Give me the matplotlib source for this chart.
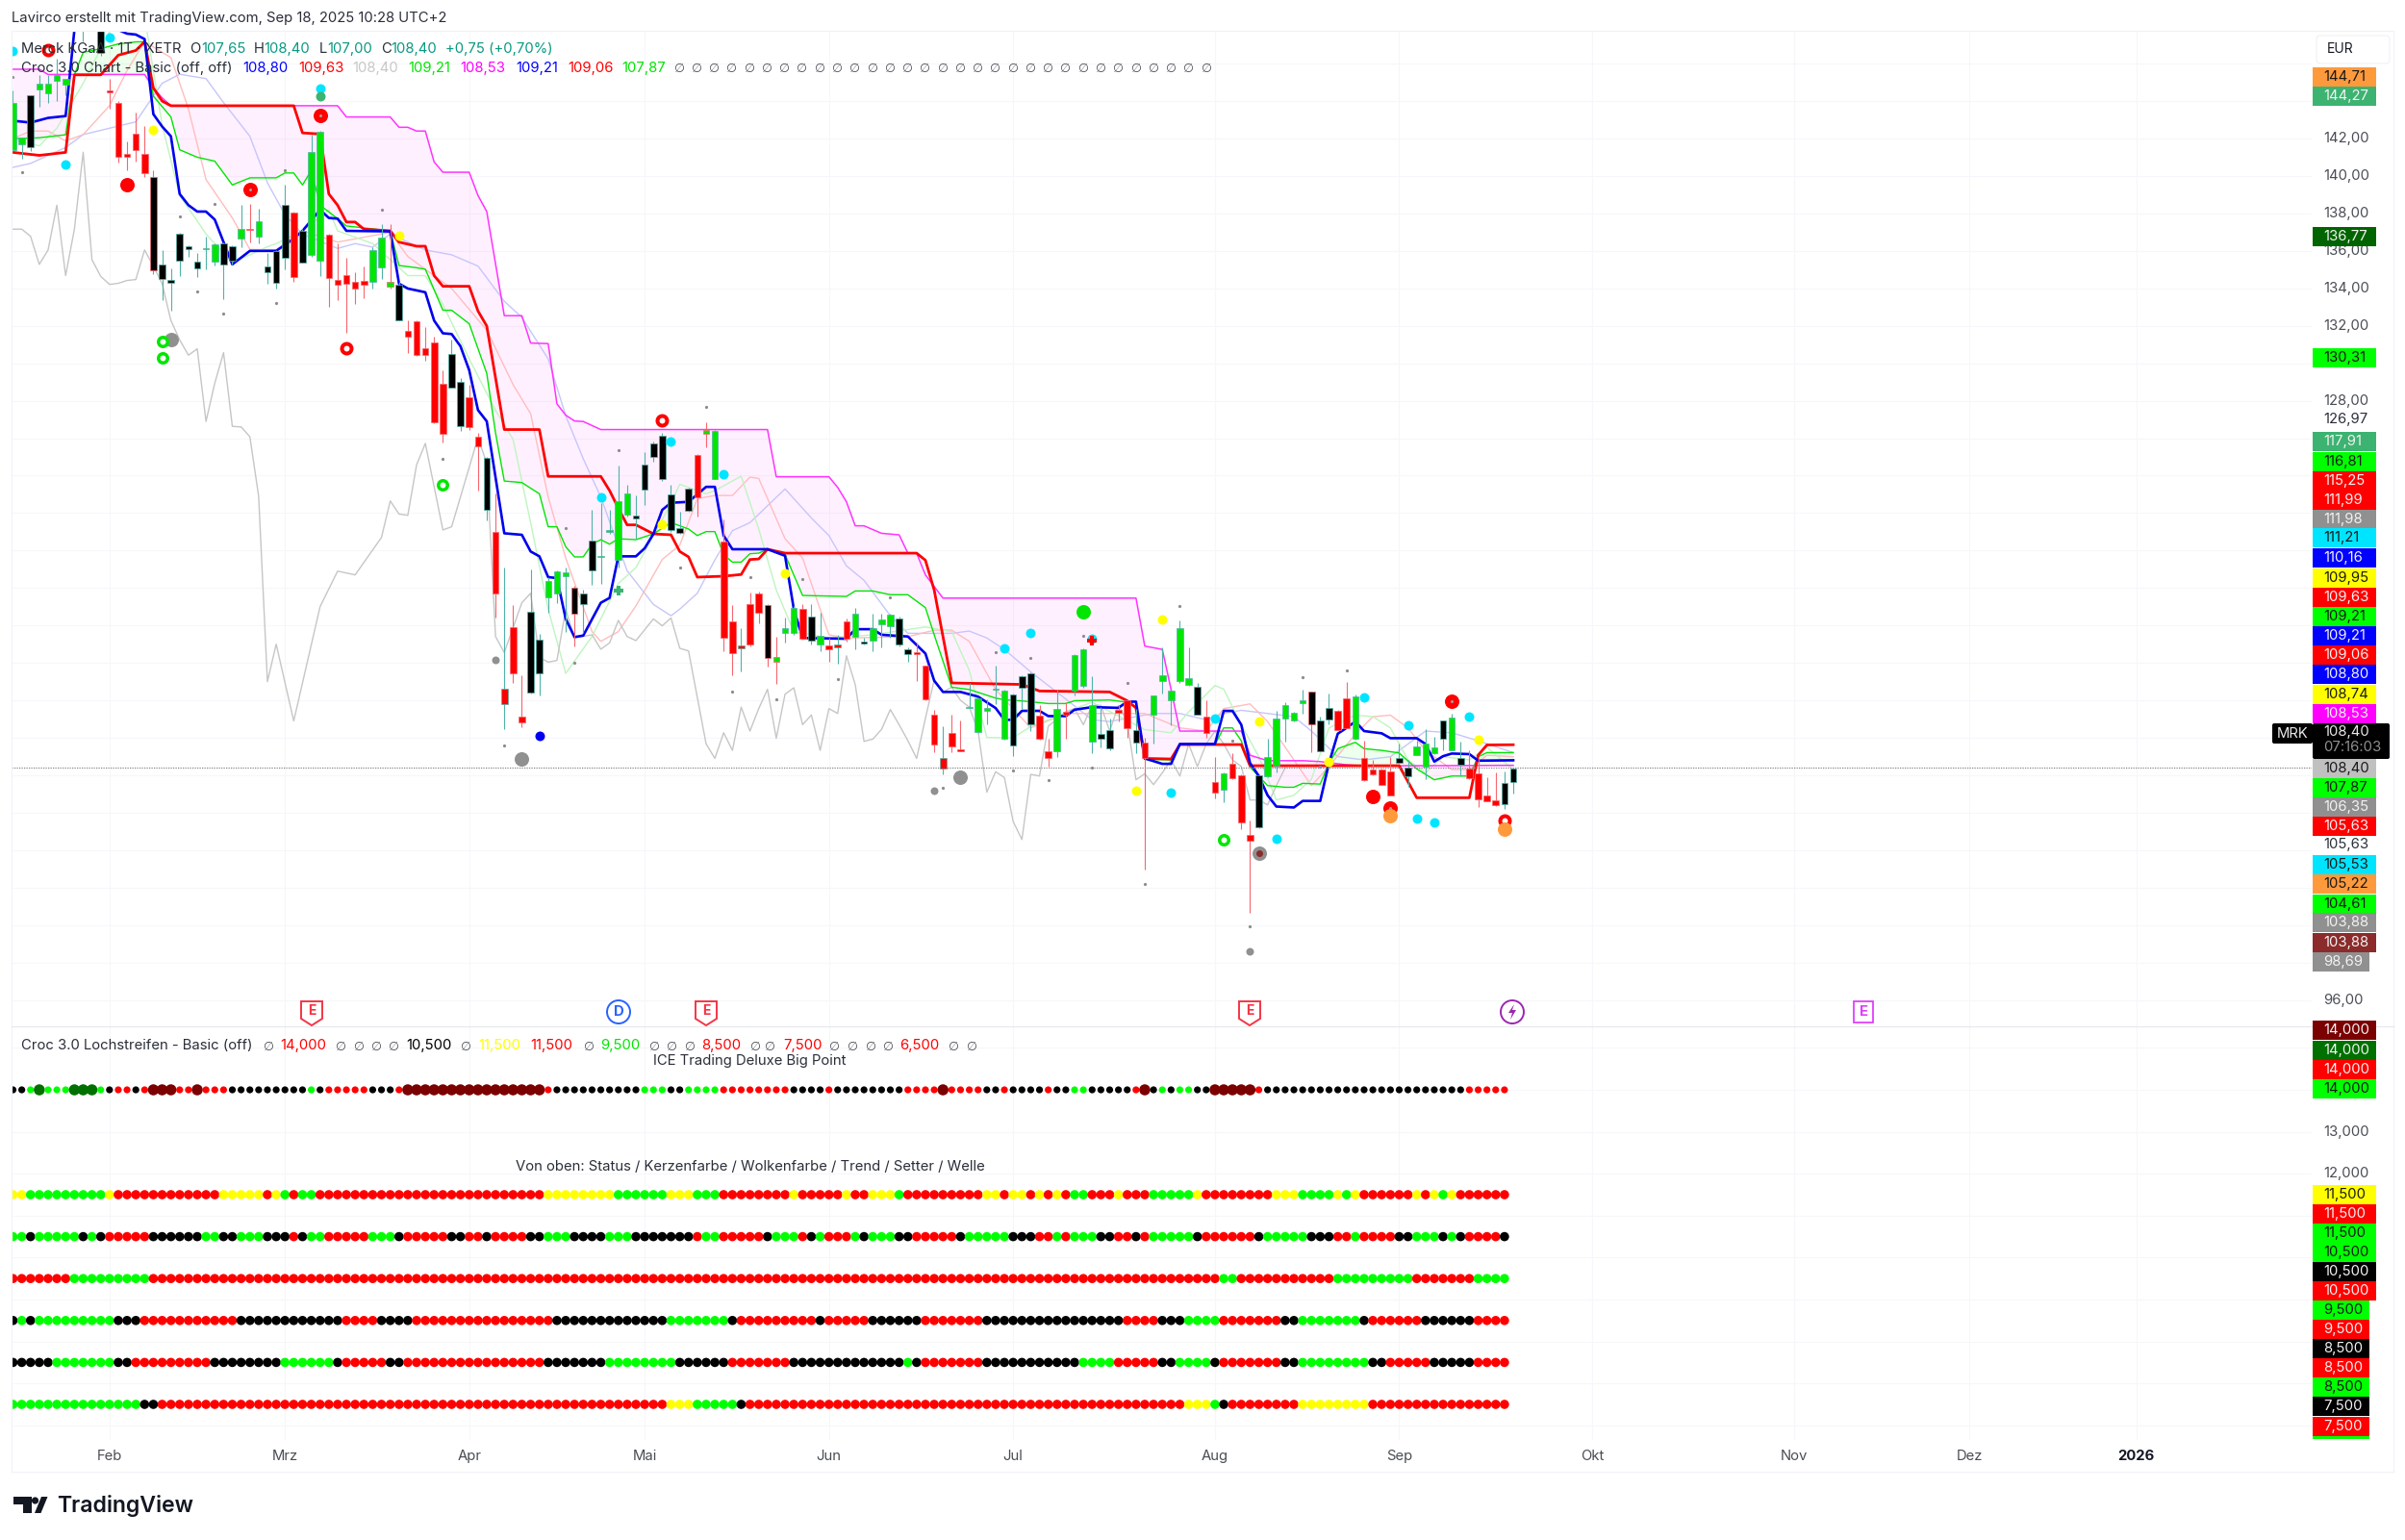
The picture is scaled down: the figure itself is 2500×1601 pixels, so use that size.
import numpy as np
import matplotlib
matplotlib.use("Agg")
import matplotlib.pyplot as plt
from matplotlib.patches import Rectangle, Polygon, Circle, Ellipse, FancyBboxPatch

plt.rcParams['font.family'] = ['Inter', 'DejaVu Sans']

# ---------- candles (price, EUR) ----------
body_top = [143.89,142.04,144.32,144.95,144.95,145.41,145.21,149.6,149.0,150.0,148.5,144.55,143.89,141.18,142.24,141.18,139.95,135.28,134.47,136.94,
136.27,135.45,136.13,136.34,136.42,136.27,137.19,137.19,137.59,135.16,136.01,138.48,138.05,137.07,141.30,142.35,136.85,134.47,134.73,134.37,
134.42,136.05,136.73,134.37,134.21,131.72,132.23,130.79,131.12,128.91,130.52,129.03,128.17,126.08,124.96,121.01,112.64,115.92,111.13,116.75,
115.24,118.37,118.89,118.83,118.03,117.72,120.55,119.72,121.11,122.65,123.06,121.87,124.57,125.72,126.11,123.00,121.18,123.29,125.08,126.45,
126.40,120.46,116.23,114.95,117.16,117.69,117.07,114.33,115.84,116.95,116.87,116.49,115.45,114.93,114.98,116.23,116.64,115.15,115.84,116.30,
116.56,116.39,114.73,114.59,113.84,111.25,108.90,110.24,109.37,111.67,112.12,111.61,112.62,112.53,112.33,113.30,113.44,111.18,109.30,111.56,
111.39,114.42,114.72,111.73,110.19,110.39,111.49,111.98,110.41,109.72,112.24,113.32,112.53,115.87,113.20,112.70,111.13,107.62,108.12,108.59,
107.99,104.79,108.01,108.99,111.01,111.73,111.32,112.02,112.45,110.91,111.61,111.44,112.12,112.19,108.92,108.30,108.30,108.22,108.90,108.39,
109.52,109.67,109.50,110.91,111.09,108.90,108.34,108.08,106.92,106.68,107.58,108.34]
body_bottom = [141.39,141.70,141.56,144.61,144.40,145.09,144.86,148.2,148.0,148.6,146.57,144.45,141.01,141.01,141.39,140.16,134.97,134.51,134.28,135.48,
136.08,135.07,136.08,135.45,135.28,135.48,136.65,137.14,136.77,134.88,134.30,135.65,134.59,135.40,135.79,135.50,134.54,134.20,134.25,133.99,
134.20,134.37,135.10,134.08,132.28,131.42,130.43,130.43,126.84,126.24,128.72,126.63,126.60,125.55,122.17,117.69,111.81,113.44,110.84,112.41,
113.44,117.50,117.69,118.61,116.61,117.12,118.92,119.66,120.97,119.52,121.92,121.73,123.23,125.00,123.80,121.09,120.92,122.12,122.82,126.23,
123.83,115.36,114.54,114.76,114.98,116.69,114.26,114.07,115.58,115.58,115.29,115.21,114.98,114.73,114.85,115.27,115.38,115.03,115.19,116.04,
115.98,114.98,114.47,114.47,112.04,109.64,108.34,109.54,109.29,111.61,110.31,111.42,112.55,109.93,109.60,112.67,110.73,109.95,108.94,109.30,
111.21,112.53,112.75,109.81,109.95,109.43,111.33,110.53,109.76,108.90,111.21,113.01,112.02,113.01,112.81,111.25,110.24,107.10,107.24,107.82,
105.48,104.52,105.22,107.93,108.51,111.01,110.91,111.83,110.70,109.30,110.96,110.43,110.53,109.93,107.72,108.03,107.50,106.93,108.65,107.94,
109.09,108.44,109.16,109.95,109.35,108.56,107.82,106.73,106.63,106.39,106.44,107.62]
wick_high = [144.55,142.04,144.32,145.38,145.38,146.27,145.21,150.0,149.5,150.5,149.0,145.20,144.01,141.87,143.41,142.67,140.33,136.05,135.05,136.99,
136.30,135.88,136.77,136.39,136.47,136.30,138.44,138.53,138.27,135.88,136.05,139.56,138.10,137.16,142.21,142.42,136.90,136.39,135.65,134.85,
135.19,136.22,137.42,137.42,134.33,132.28,132.28,131.94,131.42,129.63,131.25,129.20,128.86,126.28,125.00,123.03,119.09,117.07,113.36,118.97,
115.55,118.58,118.95,119.09,118.10,117.89,122.17,122.52,122.17,124.54,123.51,122.94,125.25,125.80,126.28,123.51,122.09,123.34,125.17,126.83,
126.45,121.66,117.07,115.84,117.76,117.81,117.12,115.41,116.44,117.04,117.16,117.16,116.70,115.33,115.50,116.35,116.92,115.33,116.64,116.64,
116.64,116.49,114.81,115.07,113.87,111.47,110.62,111.21,110.91,112.93,112.15,112.07,113.83,112.58,112.36,113.35,113.47,111.73,109.93,112.58,
111.90,114.47,114.78,113.30,111.64,111.04,111.73,112.07,111.56,110.02,112.27,114.81,112.58,116.26,114.81,112.93,111.98,108.99,108.13,109.16,
108.03,105.56,108.05,109.93,111.44,111.90,111.39,112.55,112.48,111.13,112.36,111.47,112.98,112.29,109.84,108.82,108.34,108.99,109.67,108.82,
109.84,110.44,110.05,110.94,111.30,109.81,109.33,108.90,107.88,108.13,108.22,108.40]
wick_low = [141.35,140.93,141.35,143.70,143.92,144.01,144.30,147.9,147.19,148.0,146.40,143.58,140.70,140.33,140.75,139.93,134.76,133.39,132.83,134.68,
135.70,134.59,135.02,135.22,133.43,135.28,136.22,136.47,136.39,134.25,133.99,135.02,134.33,135.36,135.70,134.68,133.00,133.39,131.65,133.17,
133.48,133.99,134.51,133.99,132.28,130.57,130.40,130.14,126.80,125.77,128.68,126.37,126.46,123.20,121.60,116.44,110.45,112.93,110.57,112.38,
112.28,116.69,117.21,115.67,114.90,115.58,118.15,118.24,120.89,119.09,121.83,120.63,122.43,124.74,123.71,120.97,120.89,122.09,121.83,125.51,
123.80,114.64,113.36,113.56,114.90,116.10,113.78,112.89,115.10,115.50,115.24,114.98,114.64,114.04,113.96,115.15,114.73,114.98,114.64,114.81,
115.33,114.90,114.08,113.01,111.99,109.25,108.05,109.25,109.30,111.61,110.27,110.70,111.81,109.90,109.02,111.56,110.36,109.91,108.47,108.99,
109.93,112.24,112.67,109.16,109.47,109.36,110.87,110.02,109.16,102.95,109.67,112.38,110.67,112.93,112.79,111.21,110.02,106.76,106.56,107.79,
105.14,100.63,105.19,107.88,108.17,109.79,110.87,111.30,109.24,109.26,110.70,110.39,110.49,109.90,107.69,107.99,107.46,106.90,108.61,107.36,
109.06,107.79,109.12,109.33,109.31,107.96,107.79,106.28,106.59,106.35,106.22,107.00]
candle_color = ("ggkggggkkk" "krrrrrkkkk" "kkggkkgrgk" "kkrkggrrrr" "rgggkrrrrr" "kkrrkrrrrk" "kgggkkkggg" "gkkkkkkkrg" "grrrrrkggg"
                "rkgrrrgkgg" "gkkrrrrrrg" "ggggkkkrrg" "rgggkkrrkr" "gggggkrrgr" "rrkgggggkk" "krrgrrrrkk" "gggkgkrrrr" "kk")
teal_wick_on_red = [56, 83, 94, 106]
red_wick_other = [16, 43, 64, 79, 86, 87, 148]

# ---------- indicator lines: bar index + price at each vertex ----------
blue_bars = [0,2,4,6,7,8,12,13,14,15,16,17,18,19,20,21,22,23,24,25,27,30,32,33,35,36,37,38,43,44,45,47,48,49,50,51,52,53,54,56,58,59,60,61,62,63,64,65,67,68,69,71,72,73,74,75,77,79,80,81,82,86,88,89,90,95,96,98,99,102,104,105,106,108,110,112,113,114,115,117,118,120,121,123,126,127,128,129,131,132,133,137,138,139,140,141,142,143,144,146,147,149,150,151,152,153,154,156,157,160,161,162,163,164,166,167,171]
blue_vals = [142.95,142.85,143.1,143.2,147.8,149.5,147.8,147.6,147.55,147.31,143.3,142.64,142.12,139.04,138.44,138.1,138.1,137.67,136.47,135.28,136.0,136.0,136.65,137.07,138.19,137.76,137.72,137.07,137.04,134.25,133.99,133.79,132.28,131.6,131.56,130.91,129.63,127.5,126.9,120.92,120.84,119.95,119.69,118.58,118.53,116.35,115.38,115.46,117.21,117.47,119.69,119.69,120.12,120.89,122.17,122.55,122.6,123.4,123.4,120.8,120.07,120.07,119.72,116.87,115.33,115.29,115.8,115.8,115.5,115.41,114.5,113.05,112.45,112.45,112.2,111.59,110.96,110.96,111.44,111.44,111.16,111.16,111.5,111.64,111.6,111.93,111.93,108.9,108.61,108.61,109.67,109.67,111.44,111.44,110.7,108.65,107.96,106.93,106.33,106.28,106.63,106.63,108.65,110.22,110.53,110.87,110.36,110.24,109.98,109.98,109.67,108.73,109.02,109.16,109.13,108.78,108.8]

red_bars = [0,3,6,7,10,12,14,15,16,17,18,32,33,35,36,37,38,39,40,43,44,46,47,48,49,52,53,54,56,60,61,67,68,69,70,71,73,75,76,77,78,81,83,84,85,86,88,103,104,105,107,115,117,125,127,128,129,132,133,140,141,158,160,166,167,168,171]
red_vals = [141.26,141.1,141.26,145.4,145.4,146.45,146.7,147.17,144.7,144.0,143.75,143.75,142.3,142.24,139.04,138.44,137.54,137.54,137.16,137.07,136.47,136.25,136.25,134.68,134.11,134.11,132.79,131.99,126.46,126.46,123.96,123.96,123.2,122.26,121.37,121.37,120.89,120.84,119.95,119.66,118.58,118.63,118.72,119.52,119.55,120.07,119.86,119.86,119.48,117.89,112.93,112.85,112.5,112.45,111.98,111.6,108.9,108.87,109.64,109.64,108.51,108.51,106.8,106.8,109.07,109.62,109.63]

magenta_bars = [0,3,4,15,16,17,18,37,38,43,44,45,46,47,48,49,52,53,54,56,58,59,61,62,63,64,65,67,86,87,93,94,95,96,97,99,101,102,103,104,106,128,129,131,132,133,140,141,143,147,149,152,154,171]
magenta_vals = [145.7,145.7,145.42,145.42,144.7,144.17,143.75,143.75,143.15,143.15,142.6,142.6,142.4,142.4,140.75,140.2,140.2,138.96,138.1,132.54,132.54,131.08,131.05,127.83,127.23,126.92,126.89,126.46,126.46,123.94,123.94,123.37,122.6,121.32,121.32,120.92,120.84,119.86,119.86,118.7,117.46,117.46,114.9,114.72,112.58,110.36,110.36,109.07,108.78,108.78,108.73,108.56,108.5,108.53]

green_bars = [0,3,6,7,8,10,12,14,15,16,18,19,21,23,24,25,27,30,31,32,33,34,35,37,38,43,44,46,47,49,50,52,54,55,56,58,60,61,62,63,64,65,66,67,68,69,71,73,75,77,78,79,80,81,82,83,84,85,86,88,90,95,96,98,100,102,104,105,107,109,112,113,115,118,120,121,125,127,128,129,132,133,137,138,139,140,141,143,145,146,147,149,150,151,153,154,156,158,160,162,164,166,167,168,171]
green_vals = [141.99,142.04,142.2,145.4,146.6,146.8,147.05,147.16,147.17,144.26,143.15,141.4,141.0,140.79,140.16,139.52,139.9,139.9,140.16,140.16,139.52,140.3,138.44,137.72,137.33,137.07,135.22,135.1,135.02,132.83,132.83,132.11,129.46,126.28,123.71,123.63,123.03,121.27,121.27,120.2,119.66,119.66,120.34,120.58,120.34,120.63,120.58,120.89,121.49,121.15,120.8,121.01,121.01,119.78,119.38,119.38,119.83,119.86,120.07,119.78,117.6,117.55,117.84,117.84,117.64,117.64,116.95,115.5,112.7,112.58,112.12,112.03,111.97,111.83,111.83,111.98,112.02,111.9,111.65,108.85,108.82,109.64,109.64,110.53,110.53,109.84,108.44,107.45,107.36,107.36,107.57,107.53,108.65,109.42,109.76,109.42,109.33,109.19,108.34,107.76,107.96,107.96,108.99,109.21,109.21]

grey_bars = [0,1,2,3,4,5,6,7,8,9,10,11,12,13,14,15,16,17,18,19,20,21,22,23,24,25,26,27,28,29,30,32,35,37,39,42,43,44,45,46,47,49,50,53,54,55,56,58,59,60,61,62,63,64,66,67,68,69,70,71,73,74,75,76,77,79,80,81,82,83,84,85,86,87,88,89,90,91,92,93,94,95,96,97,98,99,100,101,102,103,104,105,106,107,108,109,110,111,112,113,114,115,116,117,118,120,121,122,123,124,125,126,127,128,129,130,131,132,133,134,135,136,137,138,139,140,141,142,143,144,145]
grey_vals = [137.16,137.16,136.78,135.28,136.05,138.44,134.68,137.16,141.27,135.53,134.64,134.21,134.27,134.42,134.47,136.05,135.19,134.25,132.28,131.25,130.43,130.77,126.89,128.94,130.57,126.63,126.6,126.08,122.9,113.0,115.0,110.9,117.0,118.9,118.7,120.7,122.65,121.95,121.88,124.57,125.72,121.1,121.27,126.03,124.66,115.41,114.55,117.21,117.72,114.3,114.04,114.13,116.87,115.33,115.5,114.73,115.07,116.27,115.41,115.19,116.35,115.98,116.4,114.78,114.64,109.68,108.9,110.27,109.33,111.64,110.36,111.56,112.59,109.97,112.33,112.67,110.7,111.22,109.33,111.56,111.3,114.38,112.84,109.81,109.93,110.45,111.51,110.7,109.85,108.9,111.04,113.1,112.45,112.7,112.0,111.64,110.36,107.1,108.19,107.88,105.53,104.57,108.05,107.96,110.62,111.39,111.56,110.7,111.73,111.73,110.36,111.73,110.87,107.76,108.08,107.5,108.13,108.82,107.96,109.67,108.47,109.67,110.36,109.67,108.82,108.47,106.68,106.68,106.42,107.45,108.4]

pale_blue_bars = [0,2,6,8,11,14,15,17,19,22,24,27,29,31,33,37,39,41,43,47,50,53,56,58,61,63,65,67,70,73,75,76,78,80,82,84,88,91,93,95,97,100,102,107,109,111,113,116,120,123,125,130,133,136,138,140,143,146,148,151,154,157,159,161,164,167,171]
pale_blue_vals = [140.46,140.67,141.52,142.21,142.55,142.89,143.58,144.95,145.43,145.2,143.92,142.12,139.64,137.93,136.9,136.13,136.39,136.2,136.9,136.05,135.79,135.19,133.31,132.45,130.23,127.2,124.9,122.86,118.92,117.12,116.52,116.87,117.72,119.5,121.06,121.49,123.29,121.74,120.8,119.18,118.41,116.52,115.58,115.58,115.7,115.33,114.72,113.52,112.07,110.96,110.87,111.3,111.3,110.96,111.3,111.47,111.3,111.13,110.36,109.0,108.82,108.99,109.67,110.36,110.27,109.84,109.21]

pale_red_bars = [0,2,4,6,8,11,13,15,18,20,22,25,27,30,33,37,43,45,50,54,57,59,61,63,66,67,69,71,74,76,78,80,82,84,85,88,90,93,95,102,105,107,109,112,115,116,120,129,133,136,138,141,143,146,148,150,153,155,157,159,161,164,166,168,171]
pale_red_vals = [142.0,142.4,142.4,141.87,142.21,143.75,145.63,147.17,146.32,143.58,139.81,137.76,136.08,136.05,137.07,136.47,136.99,135.7,133.99,131.77,128.86,127.31,122.86,119.6,115.67,115.15,115.67,117.04,119.52,120.29,122.77,122.94,122.94,123.92,123.85,120.63,119.6,115.5,115.33,115.4,115.75,115.75,115.15,112.58,111.04,110.53,111.3,111.3,110.53,110.36,111.56,111.81,110.87,108.82,107.45,108.47,110.19,111.13,111.21,110.53,109.33,108.3,108.3,109.07,108.99]

pale_green_bars = [0,3,5,8,11,13,15,17,19,21,22,25,29,30,33,36,37,41,45,47,49,52,55,57,59,61,63,66,69,71,73,75,76,79,80,83,85,87,89,93,98,104,107,109,111,113,114,116,118,121,123,129,132,134,137,138,140,142,144,146,148,150,153,155,157,159,161,163,166,168,171]
pale_green_vals = [141.95,141.61,142.55,144.95,147.7,149.0,148.5,142.72,138.95,137.6,136.9,135.36,136.22,136.39,137.07,138.2,137.07,136.39,134.68,134.68,133.14,130.23,127.49,125.94,121.49,116.87,113.44,115.41,118.24,119.09,120.8,122.52,123.54,123.03,123.2,123.97,121.15,117.89,115.67,115.33,115.5,115.92,115.67,113.6,110.02,110.0,110.01,110.6,110.96,111.56,111.9,110.44,110.27,111.38,112.79,112.6,110.7,108.99,106.68,106.93,107.79,110.53,111.21,111.13,110.53,108.82,108.13,108.99,108.82,109.5,108.3]

# ---------- signal markers (bar index, price) ----------
cyan_bars = [0,11,6,35,75,81,67,113,116,123,154,137,166,159,160,162,144,132]
cyan_vals = [146.66,147.38,140.62,144.69,125.8,124.09,122.86,114.78,115.58,115.3,112.17,111.01,111.13,110.65,105.68,105.46,104.59,107.09]
yellow_bars = [16,44,74,88,128,131,142,150,167]
yellow_vals = [142.47,136.82,121.4,118.8,107.16,116.32,110.87,108.7,109.9]
small_grey_bars = [0,1,19,23,21,24,30,31,42,49,63,76,69,79,56,64,84,90,82,87,100,94,112,116,122,127,123,114,118,133,106,129,141,139,147,152,149]
small_grey_vals = [145.29,140.2,137.84,138.49,133.82,132.67,133.22,140.33,138.22,124.91,121.2,119.09,125.34,127.65,109.57,114.0,118.58,118.46,112.47,112.04,117.5,113.13,114.55,114.25,115.45,112.93,108.41,108.27,107.74,117.02,107.33,102.21,99.92,109.84,113.25,113.61,108.47]
solid_red_bars = [13,155]
solid_red_vals = [139.56,106.87]
red_center_bars = [35,27,157,164]
red_center_vals = [143.24,139.26,106.25,111.93]
red_ring_bars = [4,38,74,170]
red_ring_vals = [146.71,130.79,126.97,105.56]
green_ring_bars = [17,17,49,138]
green_ring_vals = [131.17,130.31,123.51,104.55]
grey_big_bars = [18,58,108,142]
grey_big_vals = [131.29,108.89,107.88,103.82]
grey_mid_bars = [55,105,141]
grey_mid_vals = [114.16,107.16,98.6]
orange_bars = [157,170]
orange_vals = [105.82,105.14]
seagreen_bars = [35]
seagreen_vals = [144.26]
blue_dot_bars = [60]
blue_dot_vals = [110.1]
lime_big_bars = [122]
lime_big_vals = [116.75]
brown_bars = [142]
brown_vals = [103.82]
green_plus_bars = [69]
green_plus_vals = [117.86]
red_plus_bars = [123]
red_plus_vals = [115.2]

# ---------- lower pane dot rows: level + colour runs ----------
big_point_level = 14.0
big_point_runs = "k2 g1 G1 g3 G3 g1 k1 r2 k1 r1 D3 r2 D1 r3 k9 g1 k1 r5 k3 r1 D16 r1 k10 g3 k2 g4 r8 k4 r1 k8 r4 D1 r4 k2 r1 k4 r1 k2 g2 k5 r1 D1 k1 g1 k1 g2 k2 D5 r1 k23 r5"
status_level = 11.5
status_runs = "y2 g9 y1 r12 y5 r1 y1 g1 r1 g2 r26 y8 g6 y3 g3 r8 y1 r5 y1 r2 y3 g1 r9 y2 r1 y2 r1 y1 r1 y1 r1 g2 r3 y1 r3 g5 y1 r8 y3 g4 y1 g1 y1 r6 y1 r1 y1 g1 y1 r6"
candle_level = 10.5
candle_runs = "g2 k1 g5 k1 g1 k1 r5 k6 g2 k2 g3 k3 r1 k1 g2 r5 g3 k1 r5 k2 r2 k1 r4 k2 g3 k4 g3 k7 r1 g2 r5 k1 g3 r1 k1 g1 r3 g1 k1 g3 k2 r5 k1 g5 k3 r2 g1 r1 g3 k2 r2 k1 r1 g5 k1 r6 k1 g5 k3 r2 g1 r4 k2 g3 k1 g1 k1 r4 k1"
cloud_level = 9.5
cloud_runs = "r7 g9 r122 g2 r11 g9 r7 g4"
trend_level = 8.5
trend_runs = "k1 g1 k1 g9 k3 r11 k12 r4 k4 r16 k13 g7 k1 r9 k1 r5 k6 r7 k16 r4 k3 g4 r7 k2 g7 k1 r6 k6 r4"
setter_level = 7.5
setter_runs = "k5 g7 k2 r9 k8 g6 k1 r5 k2 r16 k7 g8 k6 r7 k13 g1 k1 r7 k11 g4 r5 k2 g4 k1 r7 k2 g8 k2 r5 k5 r4"
wave_level = 6.5
wave_runs = "g15 k2 r58 y3 g5 k1 r50 y3 g1 k1 r8 y8 r16"

# ---------- axis labels ----------
month_bars = [11,31,52,72,93,114,137,158,180,203,223,242]
month_labels = ["Feb","Mrz","Apr","Mai","Jun","Jul","Aug","Sep","Okt","Nov","Dez","2026"]
price_grid = list(range(96,148,2))
price_labelled = [96,128,132,134,136,138,140,142]
low_grid = list(range(6,16))
low_labels = {13:"13,000",12:"12,000"}
last_price = 108.40

main_tags = [("144,71","#ff9a3c",80),("144,27","#3cb371",100),("136,77","#006400",246),("130,31","#00ff00",372),
("117,91","#3cb371",459),("116,81","#00ff00",480),("115,25","#ff0000",500),("111,99","#ff0000",520),("111,98","#909090",540),
("111,21","#00e5ff",559),("110,16","#0000ff",580),("109,95","#ffff00",601),("109,63","#ff0000",621),("109,21","#00ff00",641),
("109,21","#0000ff",661),("109,06","#ff0000",681),("108,80","#0000ff",701),("108,74","#ffff00",722),("108,53","#ff00ff",742),
("108,40","#c0c0c0",799),("107,87","#00ff00",819),("106,35","#909090",839),("105,63","#ff0000",859),("105,53","#00e5ff",899),
("105,22","#ff9a3c",919),("104,61","#00ff00",940),("103,88","#909090",959),("103,88","#8b2b2b",980),("98,69","#909090",1000)]
plain_tags = [("126,97",436),("105,63",878)]
low_tags = [("14,000","#7b0000",1071),("14,000","#007000",1092),("14,000","#ff0000",1112),("14,000","#00ff00",1132),
("11,500","#ffff00",1242),("11,500","#ff0000",1262),("11,500","#00ff00",1282),("10,500","#00ff00",1302),("10,500","#000000",1322),
("10,500","#ff0000",1342),("9,500","#00ff00",1362),("9,500","#ff0000",1382),("8,500","#000000",1402),("8,500","#ff0000",1422),
("8,500","#00ff00",1442),("7,500","#000000",1462),("7,500","#ff0000",1483)]

# ---------- layout ----------
W, H = 2500, 1601
fig = plt.figure(figsize=(25, 16.01), dpi=100, facecolor="white")
def px_axes(x0, y0, x1, y1):
    return fig.add_axes([x0/W, 1-y1/H, (x1-x0)/W, (y1-y0)/H])
L, R, T, SEP, B = 12, 2403, 32, 1067, 1497
bar0, step = 13.5, 9.12
xlim = ((L-bar0)/step, (R-bar0)/step)
GRID = "#f6f7fa"
AX = "#4a4d55"
FS = 10.7
ax = px_axes(L, T, R, SEP)
low = px_axes(L, SEP, R, B)
for a in (ax, low):
    a.set_xlim(*xlim)
    a.set_xticks(month_bars)
    a.grid(True, color=GRID, lw=0.75, zorder=0)
    a.set_axisbelow(True)
    for s in a.spines.values():
        s.set_visible(False)
    a.tick_params(length=0)
    a.yaxis.tick_right()
ax.set_ylim(142-(SEP-144)/19.47, 142+(144-T)/19.47)
low.set_ylim(14-(B-1133)/43.6, 14+(1133-SEP)/43.6)
ax.set_xticklabels([])
ax.set_yticks(price_grid)
ax.set_yticklabels([f"{v},00" if v in price_labelled else "" for v in price_grid], fontsize=FS, color=AX, va="center")
ax.tick_params(axis="y", pad=8.6)
low.set_yticks(low_grid)
low.set_yticklabels([low_labels.get(v, "") for v in low_grid], fontsize=FS, color=AX, va="center")
low.tick_params(axis="y", pad=8.6)
low.set_xticklabels(month_labels, fontsize=FS, color=AX)
low.tick_params(axis="x", pad=7)
low.get_xticklabels()[-1].set_fontweight("bold")
low.get_xticklabels()[-1].set_color("#131722")

# cloud
bars = np.arange(len(body_top))
cloud_up = np.interp(bars, magenta_bars, magenta_vals)
cloud_dn = np.interp(bars, green_bars, green_vals)
ax.fill_between(bars, cloud_up, cloud_dn, where=cloud_up >= cloud_dn, interpolate=True, color="#ff00ff", alpha=0.06, lw=0, zorder=1)
ax.fill_between(bars, cloud_up, cloud_dn, where=cloud_up <= cloud_dn, interpolate=True, color="#00ff00", alpha=0.07, lw=0, zorder=1)

# lines
ax.plot(pale_blue_bars, pale_blue_vals, color="#c6c6fb", lw=1.0, zorder=2)
ax.plot(pale_red_bars, pale_red_vals, color="#ffbdbd", lw=1.0, zorder=2)
ax.plot(pale_green_bars, pale_green_vals, color="#bff5bf", lw=1.0, zorder=2)
ax.plot(grey_bars, grey_vals, color="#c6c6c6", lw=1.0, zorder=2)
ax.plot(green_bars, green_vals, color="#00e600", lw=1.0, zorder=3)
ax.plot(magenta_bars, magenta_vals, color="#ff33ff", lw=1.1, zorder=3)
ax.plot(red_bars, red_vals, color="#ff0000", lw=2.0, zorder=3)
ax.plot(blue_bars, blue_vals, color="#0000ee", lw=1.9, zorder=3)

# candles
cmap = {"g": "#00e600", "r": "#ff0000", "k": "#000000"}
TEAL, RED = "#4fb3a9", "#f7666f"
for i in bars:
    c = candle_color[i]
    if c == "r":
        wc = TEAL if i in teal_wick_on_red else RED
    else:
        wc = RED if i in red_wick_other else TEAL
    ax.vlines(i, wick_low[i], wick_high[i], color=wc, lw=0.8, zorder=4)
    ax.bar(i, body_top[i]-body_bottom[i], bottom=body_bottom[i], width=0.72, color=cmap[c], edgecolor=wc, lw=0.5, zorder=5)

# last price line
ax.axhline(last_price, color="#8a8a8a", lw=0.9, ls=(0, (1, 1)), zorder=3)

# markers
def dots(xs, ys, d, color, z=6, **kw):
    s = (d*0.72)**2
    ax.scatter(xs, ys, s=s, color=color, linewidths=0, zorder=z, **kw)
def rings(xs, ys, d, color, width, z=6):
    s = ((d-width)*0.72)**2
    ax.scatter(xs, ys, s=s, facecolors="white", edgecolors=color, linewidths=width*0.72, zorder=z)
dots(small_grey_bars, small_grey_vals, 3.2, "#8c8c8c", z=4)
dots(cyan_bars, cyan_vals, 10, "#00e5ff")
dots(yellow_bars, yellow_vals, 10, "#ffff00")
dots(seagreen_bars, seagreen_vals, 10, "#3cb371")
dots(solid_red_bars, solid_red_vals, 15, "#ff0000")
dots(grey_big_bars, grey_big_vals, 15, "#909090")
dots(grey_mid_bars, grey_mid_vals, 8, "#909090")
dots(orange_bars, orange_vals, 15, "#ff9a3c", z=7)
dots(blue_dot_bars, blue_dot_vals, 10, "#0000ee")
dots(lime_big_bars, lime_big_vals, 15, "#00e600")
dots(brown_bars, brown_vals, 7, "#8b2b2b", z=7)
dots(red_center_bars, red_center_vals, 15, "#ff0000")
dots(red_center_bars, red_center_vals, 3, "#a0a0a0", z=7)
rings(red_ring_bars, red_ring_vals, 14, "#ff0000", 4)
rings(green_ring_bars, green_ring_vals, 13, "#00e600", 3.5)
ax.scatter(green_plus_bars, green_plus_vals, marker="P", s=55, color="#3cb371", linewidths=0, zorder=6)
ax.scatter(red_plus_bars, red_plus_vals, marker="P", s=55, color="#ff0000", linewidths=0, zorder=6)

# lower pane dots
dotmap = {"g": "#00ff00", "r": "#ff0000", "k": "#000000", "y": "#ffff00", "G": "#007000", "D": "#7b0000"}
def decode(runs):
    out = []
    for tok in runs.split():
        out += [tok[0]] * int(tok[1:])
    return out
for level, runs in [(status_level, status_runs), (candle_level, candle_runs), (cloud_level, cloud_runs),
                    (trend_level, trend_runs), (setter_level, setter_runs), (wave_level, wave_runs)]:
    codes = decode(runs)
    low.scatter(np.arange(len(codes)), [level]*len(codes), s=(9.6*0.72)**2, c=[dotmap[c] for c in codes], linewidths=0, zorder=3)
codes = decode(big_point_runs)
low.scatter(np.arange(len(codes)), [big_point_level]*len(codes), s=[(11.5*0.72)**2 if c in "GD" else (7.2*0.72)**2 for c in codes],
            c=[dotmap[c] for c in codes], linewidths=0, zorder=3)

# ---------- overlay in pixels: texts, tags, frame ----------
ov = fig.add_axes([0, 0, 1, 1], zorder=10)
ov.set_xlim(0, W); ov.set_ylim(H, 0); ov.axis("off"); ov.patch.set_alpha(0)
def txt(x, y, s, color="#131722", fs=FS, ha="left", **kw):
    ov.text(x, y, s, color=color, fontsize=fs, ha=ha, va="center", **kw)
def null(x, y):
    ov.text(x, y, "\u2205", color="#4a4d55", fontsize=9, ha="center", va="center", family=["DejaVu Sans"])

# frame
for xs, ys, c in [((L, 2488), (T, T), "#f1f3f8"), ((L, L), (T, 1530), "#f1f3f8"), ((2488, 2488), (T, 1530), "#f1f3f8"),
                  ((L, 2488), (1530, 1530), "#f1f3f8"), ((L, 2488), (SEP, SEP), "#e6e8ee")]:
    ov.plot(xs, ys, color=c, lw=0.9)

txt(12, 18.5, "Lavirco erstellt mit TradingView.com, Sep 18, 2025 10:28 UTC+2", color="#2a2e39")
TEALTXT = "#089981"
txt(22, 50.5, "Merck KGaA \u00b7 1T \u00b7 XETR", color="#2a2e39")
for x, s, c in [(197,"O","#2a2e39"),(209,"107,65",TEALTXT),(264,"H","#2a2e39"),(274,"108,40",TEALTXT),(332,"L","#2a2e39"),
                (340,"107,00",TEALTXT),(396,"C","#2a2e39"),(406,"108,40",TEALTXT),(463,"+0,75 (+0,70%)",TEALTXT)]:
    txt(x, 50.5, s, color=c)
txt(22, 71, "Croc 3.0 Chart - Basic (off, off)", color="#2a2e39")
for x, s, c in [(252,"108,80","#0000ff"),(310,"109,63","#ff0000"),(366,"108,40","#c8c8c8"),(424,"109,21","#00e600"),
                (478,"108,53","#ff00ff"),(536,"109,21","#0000ff"),(590,"109,06","#ff0000"),(646,"107,87","#00e600")]:
    txt(x, 71, s, color=c)
for k in range(31):
    null(705 + k*18.27, 71)

txt(22, 1087, "Croc 3.0 Lochstreifen - Basic (off)", color="#2a2e39")
for x in [278,353,372,390,408,483,611,679,697,716,784,799,866,885,904,922,990,1009]:
    null(x, 1088)
for x, s, c in [(291,"14,000","#ff0000"),(422,"10,500","#000000"),(497,"11,500","#ffff00"),(551,"11,500","#ff0000"),
                (624,"9,500","#00e600"),(729,"8,500","#ff0000"),(814,"7,500","#ff0000"),(935,"6,500","#ff0000")]:
    txt(x, 1087, s, color=c)
txt(779, 1103, "ICE Trading Deluxe Big Point", color="#2a2e39", ha="center")
txt(780, 1213, "Von oben: Status / Kerzenfarbe / Wolkenfarbe / Trend / Setter / Welle", color="#2a2e39", ha="center")

# EUR box
ov.add_patch(FancyBboxPatch((2410, 39), 72, 25, boxstyle="round,pad=2,rounding_size=4", fc="white", ec="#f0f1f4", lw=0.8))
txt(2419, 51, "EUR", color="#131722", fs=10)

# tags
DARK = {"#ffff00", "#00ff00", "#00e5ff", "#ff9a3c", "#c0c0c0"}
def tag(s, col, y, z=3):
    w = 66 if len(s) == 6 else 59
    ov.add_patch(Rectangle((2404, y-10.2), w, 20.4, fc=col, ec="none", zorder=z))
    txt(2415, y, s, color="#1a1a1a" if col in DARK else "#f2f2f2", zorder=z+1)
for s, c, y in main_tags + low_tags:
    tag(s, c, y)
ov.add_patch(Rectangle((2404, 1493), 59, 3, fc="#00ff00", ec="none", zorder=2))
for s, y in plain_tags:
    ov.add_patch(Rectangle((2404, y-10), 66, 20, fc="white", ec="none", zorder=2))
    txt(2415, y, s, color="#2a2e39", zorder=3)
# current price
ov.add_patch(FancyBboxPatch((2405, 753), 78, 35, boxstyle="round,pad=1,rounding_size=2", fc="black", ec="none", zorder=5))
txt(2415, 761, "108,40", color="#e8e8e8", zorder=6)
txt(2415, 777, "07:16:03", color="#909090", zorder=6)
ov.add_patch(FancyBboxPatch((2363, 753), 40, 19, boxstyle="round,pad=1,rounding_size=2", fc="black", ec="none", zorder=5))
txt(2383, 762.5, "MRK", color="#e8e8e8", ha="center", zorder=6)

# event badges
def shield(x, y, col, letter):
    ov.add_patch(Polygon([(x-11, y-12), (x+11, y-12), (x+11, y+6), (x, y+13), (x-11, y+6)], closed=True, fc="white", ec=col, lw=1.4, zorder=4))
    txt(x, y-2, letter, color=col, fs=10, ha="center", fontweight="bold", zorder=5)
shield(324, 1053, "#f23645", "E")
shield(734, 1053, "#f23645", "E")
shield(1299, 1053, "#f23645", "E")
ov.add_patch(Circle((643, 1052), 12, fc="white", ec="#2962ff", lw=1.4, zorder=4))
txt(643, 1052, "D", color="#2962ff", ha="center", fontweight="bold", zorder=5)
ov.add_patch(Circle((1572, 1052), 12, fc="white", ec="#9c27b0", lw=1.4, zorder=4))
ov.add_patch(Polygon([(1574, 1044), (1568, 1053), (1572, 1053), (1570, 1060), (1576, 1050), (1572, 1050)], closed=True, fc="#9c27b0", ec="none", zorder=5))
ov.add_patch(Rectangle((1927, 1041), 20, 22, fc="white", ec="#e040fb", lw=1.3, zorder=4))
txt(1937, 1052, "E", color="#e040fb", ha="center", fontweight="bold", zorder=5)

# logo
K = "#131722"
ov.add_patch(Polygon([(14,1556),(33,1556),(33,1573),(24,1573),(24,1564),(14,1564)], closed=True, fc=K, ec="none"))
ov.add_patch(Circle((36.5,1560), 3.6, fc=K, ec="none"))
ov.add_patch(Polygon([(36,1573),(43,1556),(49.5,1556),(42.5,1573)], closed=True, fc=K, ec="none"))
txt(59, 1565, "TradingView", color=K, fs=16.6, fontweight="semibold")

fig.savefig("out.png", dpi=100, facecolor="white")
